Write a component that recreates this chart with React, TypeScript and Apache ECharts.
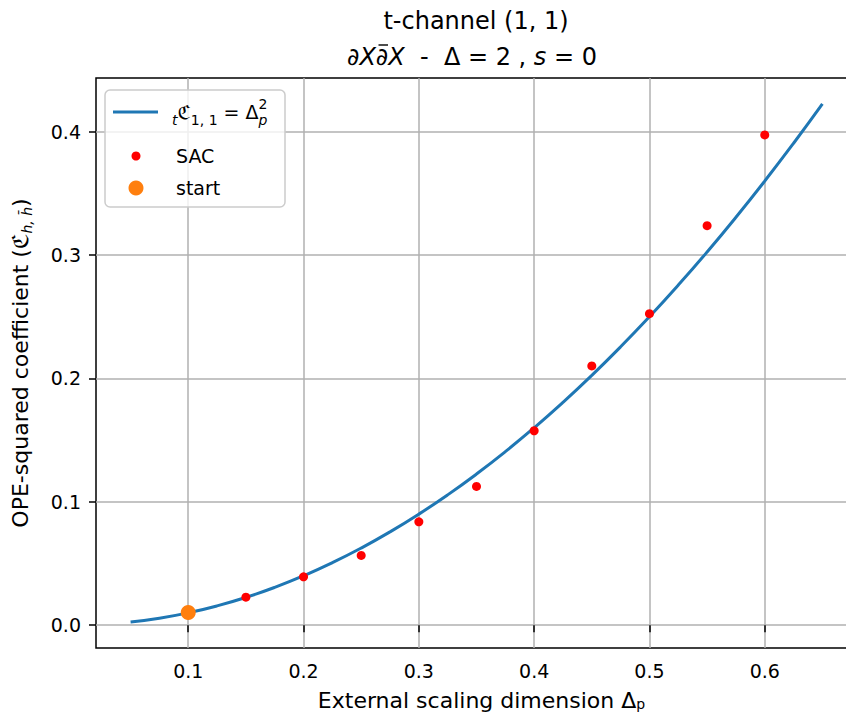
import React, { useEffect, useRef } from "react";
import * as echarts from "echarts";

// Analytic t-channel curve: tC(1,1) = Δp²
const curveDelta = [
  0.05, 0.075, 0.1, 0.125, 0.15, 0.175, 0.2, 0.225, 0.25, 0.275, 0.3, 0.325,
  0.35, 0.375, 0.4, 0.425, 0.45, 0.475, 0.5, 0.525, 0.55, 0.575, 0.6, 0.625, 0.65,
];
const curveCoef = [
  0.0025, 0.005625, 0.01, 0.015625, 0.0225, 0.030625, 0.04, 0.050625, 0.0625,
  0.075625, 0.09, 0.105625, 0.1225, 0.140625, 0.16, 0.180625, 0.2025, 0.225625,
  0.25, 0.275625, 0.3025, 0.330625, 0.36, 0.390625, 0.4225,
];

// SAC estimates
const sacDelta = [0.15, 0.2, 0.25, 0.3, 0.35, 0.4, 0.45, 0.5, 0.55, 0.6];
const sacCoef = [0.0227, 0.0392, 0.0565, 0.0838, 0.1125, 0.1576, 0.2101, 0.2525, 0.3238, 0.3974];

// starting point
const startDelta = [0.1];
const startCoef = [0.0103];

const xTicks = [0.1, 0.2, 0.3, 0.4, 0.5, 0.6];
const yTicks = [0.0, 0.1, 0.2, 0.3, 0.4];

const FONT = "DejaVu Sans";
const BLUE = "#1f77b4";
const RED = "#ff0000";
const ORANGE = "#ff7f0e";
const GRID = "#b0b0b0";

const pairs = (xs: number[], ys: number[]) => xs.map((x, i) => [x, ys[i]]);

const subStyle = (extra: object = {}) => ({
  fontFamily: FONT,
  fontSize: 14,
  fill: "#000",
  color: "#000",
  verticalAlign: "bottom",
  lineHeight: 14,
  ...extra,
});

export default function App() {
  const ref = useRef<HTMLDivElement>(null);

  useEffect(() => {
    if (!ref.current) return;
    const chart = echarts.init(ref.current, undefined, { renderer: "svg" });

    const legendText = (x: number, y: number, text: string, rich?: object) => ({
      type: "text",
      z: 11,
      x,
      y,
      style: {
        text,
        fontFamily: FONT,
        fontSize: 19,
        fill: "#000",
        align: "left",
        verticalAlign: "middle",
        lineHeight: 30,
        rich,
      },
    });

    chart.setOption({
      animation: false,
      backgroundColor: "#ffffff",
      grid: {
        left: 96,
        right: -11,
        top: 78,
        bottom: 72,
        outerBoundsMode: "none",
        show: true,
        borderColor: "#000000",
        borderWidth: 1.5,
        backgroundColor: "transparent",
      },
      xAxis: {
        type: "value",
        min: 0.02,
        max: 0.68,
        axisLine: { show: false },
        axisTick: {
          show: true,
          customValues: xTicks,
          length: 7,
          lineStyle: { color: "#000", width: 1.5 },
        },
        axisLabel: {
          customValues: xTicks,
          formatter: (v: number) => v.toFixed(1),
          color: "#000",
          fontFamily: FONT,
          fontSize: 19,
          margin: 13,
        },
        splitLine: { show: true, lineStyle: { color: GRID, width: 1.5 } },
        name: "External scaling dimension Δ{sub|p}",
        nameLocation: "middle",
        nameGap: 41,
        nameTextStyle: {
          color: "#000",
          fontFamily: FONT,
          fontSize: 22,
          padding: [0, 0, 0, 10],
          rich: { sub: subStyle() },
        },
      },
      yAxis: {
        type: "value",
        min: -0.0185,
        max: 0.4435,
        axisLine: { show: false },
        axisTick: {
          show: true,
          customValues: yTicks,
          length: 7,
          lineStyle: { color: "#000", width: 1.5 },
        },
        axisLabel: {
          customValues: yTicks,
          formatter: (v: number) => v.toFixed(1),
          color: "#000",
          fontFamily: FONT,
          fontSize: 19,
          margin: 15,
        },
        splitLine: { show: true, lineStyle: { color: GRID, width: 1.5 } },
        name: "OPE-squared coefficient (ℭ{sub|h, h\u0304})",
        nameLocation: "middle",
        nameGap: 62,
        nameTextStyle: {
          color: "#000",
          fontFamily: FONT,
          fontSize: 22,
          lineHeight: 28,
          rich: { sub: subStyle({ fontStyle: "italic" }) },
        },
      },
      graphic: [
        {
          type: "text",
          x: 476,
          y: 21,
          style: {
            text: "t-channel (1, 1)",
            fontFamily: FONT,
            fontSize: 24,
            fill: "#000",
            align: "center",
            verticalAlign: "middle",
          },
        },
        {
          type: "text",
          x: 347,
          y: 57,
          style: {
            text: "{it|\u2202X\u2202X}  -  Δ = 2 , {it|s} = 0",
            fontFamily: FONT,
            fontSize: 24,
            fill: "#000",
            align: "left",
            verticalAlign: "middle",
            rich: {
              it: { fontFamily: FONT, fontSize: 24, fontStyle: "italic", fill: "#000" },
            },
          },
        },
        // bar over the second ∂ (anti-holomorphic derivative)
        {
          type: "line",
          shape: { x1: 378.5, y1: 45, x2: 388, y2: 45 },
          style: { stroke: "#000", lineWidth: 1.4 },
        },
        // legend box
        {
          type: "rect",
          z: 10,
          shape: { x: 105, y: 90, width: 180, height: 117, r: 5 },
          style: { fill: "rgba(255,255,255,0.8)", stroke: "#cccccc", lineWidth: 1.5 },
        },
        {
          type: "line",
          z: 11,
          shape: { x1: 113, y1: 112, x2: 158, y2: 112 },
          style: { stroke: BLUE, lineWidth: 3 },
        },
        legendText(172, 112, "{t|t}ℭ{sub|1, 1} = Δ{p|p}{sq|2}", {
          t: subStyle({ fontStyle: "italic" }),
          sub: subStyle(),
          p: subStyle({ fontStyle: "italic", width: 0 }),
          sq: subStyle({ verticalAlign: "top" }),
        }),
        {
          type: "circle",
          z: 11,
          shape: { cx: 136, cy: 156, r: 4.5 },
          style: { fill: RED },
        },
        legendText(176, 156, "SAC"),
        {
          type: "circle",
          z: 11,
          shape: { cx: 136, cy: 188, r: 7.5 },
          style: { fill: ORANGE },
        },
        legendText(176, 188, "start"),
      ],
      series: [
        {
          name: "curve",
          type: "line",
          data: pairs(curveDelta, curveCoef),
          smooth: true,
          symbol: "none",
          lineStyle: { color: BLUE, width: 3 },
          itemStyle: { color: BLUE },
          z: 2,
        },
        {
          name: "SAC",
          type: "scatter",
          data: pairs(sacDelta, sacCoef),
          symbol: "circle",
          symbolSize: 9,
          itemStyle: { color: RED, opacity: 1 },
          z: 3,
        },
        {
          name: "start",
          type: "scatter",
          data: pairs(startDelta, startCoef),
          symbol: "circle",
          symbolSize: 15,
          itemStyle: { color: ORANGE, opacity: 1 },
          z: 4,
        },
      ],
    });

    return () => chart.dispose();
  }, []);

  return (
    <div
      ref={ref}
      style={{ position: "fixed", left: 0, top: 0, width: 846, height: 720 }}
    />
  );
}
